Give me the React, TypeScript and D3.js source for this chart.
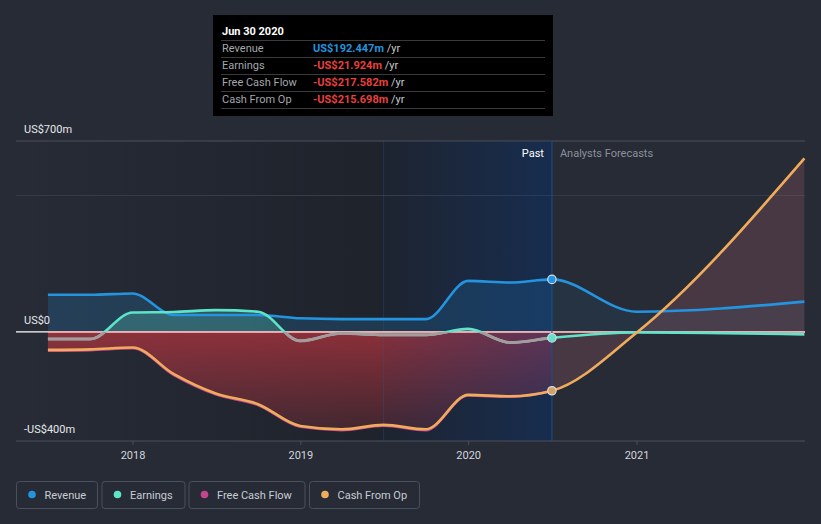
import React from 'react';
import * as d3 from 'd3';

// ---- Data (US$ millions) ----
const pastDates = ['2017-06-30', '2017-09-30', '2017-12-31', '2018-03-31', '2018-06-30', '2018-09-30', '2018-12-31', '2019-03-31', '2019-06-30', '2019-09-30', '2019-12-31', '2020-03-31', '2020-06-30'];
const forecastDates = ['2020-12-31', '2021-12-31'];
const revenuePast = [136, 136, 141, 62, 62, 62, 50, 47, 47, 47, 187, 181, 192.447];
const revenueForecast = [74, 111];
const earningsPast = [-26, -26, 71, 73, 80, 74, -33, -5, -11, -11, 11, -39, -21.924];
const earningsForecast = [-2, -9];
const fcfPast = [-69, -67, -60, -158, -229, -268, -348, -360, -344, -360, -233, -238, -217.582];
const cfoPast = [-66, -64, -57, -155, -226, -265, -345, -357, -341, -357, -231, -236, -215.698];
const cfoForecast = [-3, 636];
const yTicks = [700, 0, -400];
const yTickLabels = ['US$700m', 'US$0', '-US$400m'];
const xTickYears = [2018, 2019, 2020, 2021];
const legendItems = ['Revenue', 'Earnings', 'Free Cash Flow', 'Cash From Op'];
const tooltipRows = [
  { label: 'Revenue', value: 'US$192.447m' },
  { label: 'Earnings', value: '-US$21.924m' },
  { label: 'Free Cash Flow', value: '-US$217.582m' },
  { label: 'Cash From Op', value: '-US$215.698m' },
];

const COLORS = {
  bg: '#262b36',
  revenue: '#2394df',
  earnings: '#5fe3c9',
  earningsNeg: '#a89a9c',
  fcf: '#c5458c',
  cfo: '#f0ac5c',
};
const legendColors = [COLORS.revenue, COLORS.earnings, COLORS.fcf, COLORS.cfo];

type Pt = { d: Date; v: number };
const parse = (s: string) => new Date(s + 'T00:00:00');
const mk = (dates: string[], vals: number[]): Pt[] => dates.map((d, i) => ({ d: parse(d), v: vals[i] }));

export default function App() {
  const W = 821, H = 524;
  const x = d3.scaleTime().domain([new Date(2018, 0, 1), new Date(2021, 0, 1)]).range([133, 637]);
  const y = d3.scaleLinear().domain([-400, 700]).range([441, 141]);
  const y0 = y(0);
  const left = 16, right = 805, top = y(700), bottom = y(-400);
  const nowX = x(parse('2020-06-30'));
  const hlX = x(parse('2019-06-30'));
  const startX = x(parse('2017-06-30'));

  const revenue = [...mk(pastDates, revenuePast), ...mk(forecastDates, revenueForecast)];
  const earnings = [...mk(pastDates, earningsPast), ...mk(forecastDates, earningsForecast)];
  const fcf = mk(pastDates, fcfPast);
  const cfo = [...mk(pastDates, cfoPast), ...mk(forecastDates, cfoForecast)];

  const line = d3.line<Pt>().x(p => x(p.d)).y(p => y(p.v)).curve(d3.curveMonotoneX);
  const area = d3.area<Pt>().x(p => x(p.d)).y0(y0).y1(p => y(p.v)).curve(d3.curveMonotoneX);

  const font = 'Roboto, "Open Sans", sans-serif';

  const legendBoxes = [
    { x: 16.5, w: 81 },
    { x: 102, w: 83 },
    { x: 189, w: 116 },
    { x: 309.5, w: 110 },
  ];

  return (
    <svg width={W} height={H} style={{ position: 'absolute', left: 0, top: 0, fontFamily: font }}>
      <defs>
        <linearGradient id="pastDark" gradientUnits="userSpaceOnUse" x1={left} x2={hlX} y1="0" y2="0">
          <stop offset="0" stopColor="#000" stopOpacity={0.0} />
          <stop offset="1" stopColor="#000" stopOpacity={0.2} />
        </linearGradient>
        <linearGradient id="hlBlue" x1="0" x2="1" y1="0" y2="0">
          <stop offset="0" stopColor="#0a3e8c" stopOpacity={0.05} />
          <stop offset="1" stopColor="#0a3e8c" stopOpacity={0.36} />
        </linearGradient>
        <linearGradient id="redFill" gradientUnits="userSpaceOnUse" x1="0" x2="0" y1={y0} y2={bottom}>
          <stop offset="0" stopColor="#cd3741" stopOpacity={0.62} />
          <stop offset="1" stopColor="#cd3741" stopOpacity={0.15} />
        </linearGradient>
        <clipPath id="clipPast"><rect x={0} y={0} width={nowX} height={H} /></clipPath>
        <clipPath id="clipFuture"><rect x={nowX} y={0} width={W - nowX} height={H} /></clipPath>
        <clipPath id="clipPastNeg"><rect x={0} y={y0} width={nowX} height={H - y0} /></clipPath>
        <clipPath id="clipAbove"><rect x={0} y={0} width={W} height={y0} /></clipPath>
      </defs>

      <rect x={0} y={0} width={W} height={H} fill={COLORS.bg} />
      <rect x={left} y={top} width={nowX - left} height={bottom - top} fill="url(#pastDark)" />

      {/* gridlines */}
      <line x1={left} x2={right} y1={y(500)} y2={y(500)} stroke="#363c49" strokeWidth={1} />
      <line x1={left} x2={right} y1={top} y2={top} stroke="#4b515c" strokeWidth={1} />

      {/* fills */}
      <path d={area(revenue) || ''} fill={COLORS.revenue} fillOpacity={0.2} clipPath="url(#clipPast)" />
      <path d={area(revenue) || ''} fill={COLORS.revenue} fillOpacity={0.08} clipPath="url(#clipFuture)" />
      <path d={area(fcf) || ''} fill="url(#redFill)" />
      <path d={area(cfo) || ''} fill="#d26e78" fillOpacity={0.2} clipPath="url(#clipFuture)" />
      <path d={area(earnings) || ''} fill={COLORS.earnings} fillOpacity={0.25} clipPath="url(#clipAbove)" />

      {/* highlighted last year overlay */}
      <rect x={hlX} y={top + 0.5} width={nowX - hlX} height={bottom - top - 0.5} fill="url(#hlBlue)" />
      <line x1={hlX} x2={hlX} y1={top} y2={bottom} stroke="#2a5a9a" strokeOpacity={0.3} strokeWidth={1} />

      {/* zero line */}
      <line x1={left} x2={right} y1={y0} y2={y0} stroke="#ffffff" strokeWidth={1.2} />
      <line x1={startX} x2={right} y1={y0} y2={y0} stroke="#f0a8a8" strokeWidth={1.5} />

      {/* lines */}
      <path d={line(revenue) || ''} fill="none" stroke={COLORS.revenue} strokeWidth={2.6} />
      <path d={line(earnings) || ''} fill="none" stroke={COLORS.earnings} strokeWidth={2.6} />
      <path d={line(earnings) || ''} fill="none" stroke={COLORS.earningsNeg} strokeWidth={2.8} clipPath="url(#clipPastNeg)" />
      <path d={line(fcf) || ''} fill="none" stroke={COLORS.fcf} strokeWidth={2.6} />
      <path d={line(cfo) || ''} fill="none" stroke={COLORS.cfo} strokeWidth={2.6} />

      {/* now line */}
      <line x1={nowX} x2={nowX} y1={top} y2={bottom} stroke="#1f4f86" strokeWidth={1} />
      <circle cx={nowX} cy={y(revenuePast[12])} r={4.2} fill={COLORS.revenue} stroke="#d8dde5" strokeWidth={1.2} />
      <circle cx={nowX} cy={y(earningsPast[12])} r={4.2} fill={COLORS.earnings} stroke="#d8dde5" strokeWidth={1.2} />
      <circle cx={nowX} cy={y(cfoPast[12])} r={4.2} fill="#d6a060" stroke="#d8dde5" strokeWidth={1.2} />

      {/* x axis */}
      <line x1={left} x2={right} y1={bottom} y2={bottom} stroke="#4b515c" strokeWidth={1} />
      {xTickYears.map(yr => {
        const tx = x(new Date(yr, 0, 1));
        return (
          <g key={yr}>
            <line x1={tx} x2={tx} y1={bottom} y2={bottom + 4} stroke="#4b515c" />
            <text x={tx} y={459} textAnchor="middle" fontSize={11} fill="#d4d6da">{yr}</text>
          </g>
        );
      })}

      {/* y labels */}
      {yTicks.map((t, i) => (
        <text key={t} x={24} y={y(t) - 8} fontSize={11} fill="#e6e8ea">{yTickLabels[i]}</text>
      ))}

      <text x={nowX - 8} y={157} textAnchor="end" fontSize={11} fill="#ffffff">Past</text>
      <text x={nowX + 8} y={157} fontSize={11} fill="#8c919a">Analysts Forecasts</text>

      {/* tooltip */}
      <rect x={213} y={15} width={340} height={101} fill="#000000" />
      <text x={222} y={35} fontSize={11} fontWeight="bold" fill="#ffffff">Jun 30 2020</text>
      {[40, 57, 74, 91, 108].map(ly => (
        <line key={ly} x1={221} x2={545} y1={ly + 0.5} y2={ly + 0.5} stroke="#3a3a3a" strokeWidth={1} />
      ))}
      {tooltipRows.map((r, i) => (
        <g key={r.label}>
          <text x={222} y={52 + i * 17} fontSize={11} fill="#a3a6ab">{r.label}</text>
          <text x={313} y={52 + i * 17} fontSize={11}>
            <tspan fontWeight="bold" fill={i === 0 ? COLORS.revenue : '#e8413f'}>{r.value}</tspan>
            <tspan fill="#c8cacd"> /yr</tspan>
          </text>
        </g>
      ))}

      {/* legend */}
      {legendItems.map((name, i) => {
        const b = legendBoxes[i];
        return (
          <g key={name}>
            <rect x={b.x} y={481.5} width={b.w} height={27} rx={3} fill="none" stroke="#4b515c" strokeWidth={1} />
            <circle cx={b.x + 15.5} cy={494.5} r={3.8} fill={legendColors[i]} />
            <text x={b.x + 28} y={498.5} fontSize={11} fill="#c9cdd3">{name}</text>
          </g>
        );
      })}
    </svg>
  );
}
